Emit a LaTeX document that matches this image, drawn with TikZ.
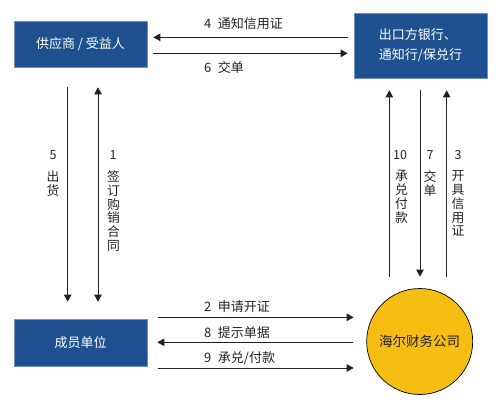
\documentclass[tikz,border=0pt]{standalone}
\usepackage{fontspec}
\newfontfamily\cjk{Noto Sans CJK SC}
\usetikzlibrary{arrows.meta,calc}
\definecolor{boxblue}{HTML}{1F5090}
\definecolor{boxedge}{HTML}{6E8FBF}
\definecolor{coinyellow}{HTML}{F6BE12}
\definecolor{ink}{HTML}{222222}
\begin{document}
\begin{tikzpicture}[x=1pt,y=-1pt,
  party/.style={draw=boxedge,line width=0.6pt,fill=boxblue,text=white,
    font=\cjk\fontsize{13}{20}\selectfont,minimum width=133pt,inner sep=0pt},
  coin/.style={circle,draw=black,line width=0.7pt,fill=coinyellow,text=ink,
    font=\cjk\fontsize{13.5}{16}\selectfont,minimum size=106pt,inner sep=0pt},
  arr/.style={draw=ink,line width=0.8pt,-{Triangle[length=7pt,width=7.5pt]}},
  darr/.style={draw=ink,line width=0.8pt,{Triangle[length=7pt,width=7.5pt]}-{Triangle[length=7pt,width=7.5pt]}},
  lbl/.style={text=ink,font=\cjk\fontsize{13}{16}\selectfont,inner sep=0pt,anchor=west},
  num/.style={text=ink,font=\cjk\fontsize{12.5}{15}\selectfont,inner sep=0pt},
  vlbl/.style={text=ink,font=\cjk\fontsize{12.8}{13.8}\selectfont,inner sep=0pt,align=center,anchor=north}]
\useasboundingbox (0,0) rectangle (502,407);

% nodes
\node[party,minimum height=46pt] (A) at (80.5,44) {供应商 / 受益人};
\node[party,minimum height=65pt,align=left] (B) at (420.5,45.5) {出口方银行、\\通知行/保兑行};
\node[party,minimum height=47pt] (C) at (80.5,342.5) {成员单位};
\node[coin] (D) at (419.7,341.5) {海尔财务公司};

% row / column references
\coordinate (r4) at (0,37.3);
\coordinate (r6) at (0,53.3);
\coordinate (r2) at (0,317.3);
\coordinate (r8) at (0,342.3);
\coordinate (r9) at (0,368);
\coordinate (c5) at (67.7,0);
\coordinate (c1) at (98,0);
\coordinate (c10) at (389.3,0);
\coordinate (c7) at (420,0);
\coordinate (c3) at (446.7,0);

% top horizontal arrows
\draw[arr] ($(B.west |- r4)+(-6,0)$) -- ($(A.east |- r4)+(6,0)$);
\draw[arr] ($(A.east |- r6)+(6,0)$) -- ($(B.west |- r6)+(-6,0)$);
\node[lbl] at (204,24) {4\enspace 通知信用证};
\node[lbl] at (204,68) {6\enspace 交单};

% bottom horizontal arrows
\draw[arr] ($(C.east |- r2)+(11,0)$) -- ($(D.west |- r2)+(-12.7,0)$);
\draw[arr] ($(D.west |- r8)+(-13.7,0)$) -- ($(C.east |- r8)+(10,0)$);
\draw[arr] ($(C.east |- r9)+(11,0)$) -- ($(D.west |- r9)+(-12.7,0)$);
\node[lbl] at (204,307) {2\enspace 申请开证};
\node[lbl] at (204,333) {8\enspace 提示单据};
\node[lbl] at (204,358) {9\enspace 承兑/付款};

% left verticals
\draw[arr] ($(c5 |- A.south)+(0,20)$) -- ($(c5 |- C.north)+(0,-17)$);
\draw[darr] ($(c1 |- C.north)+(0,-17)$) -- ($(c1 |- A.south)+(0,20)$);
\node[num] at (53,155) {5};
\node[vlbl] at (53,170.5) {出\\货};
\node[num] at (113,155) {1};
\node[vlbl] at (113.5,170.5) {签\\订\\购\\销\\合\\同};

% right verticals
\draw[arr] ($(c10 |- D.north)+(0,-11.5)$) -- ($(c10 |- B.south)+(0,12)$);
\draw[arr] ($(c7 |- B.south)+(0,12)$) -- ($(c7 |- D.north)+(0,-11.5)$);
\draw[arr] ($(c3 |- D.north)+(0,-11.5)$) -- ($(c3 |- B.south)+(0,12)$);
\node[num] at (400,155) {10};
\node[vlbl] at (401.5,170.5) {承\\兑\\付\\款};
\node[num] at (430,155) {7};
\node[vlbl] at (430,170.5) {交\\单};
\node[num] at (458,155) {3};
\node[vlbl] at (458,170.5) {开\\具\\信\\用\\证};
\end{tikzpicture}
\end{document}
